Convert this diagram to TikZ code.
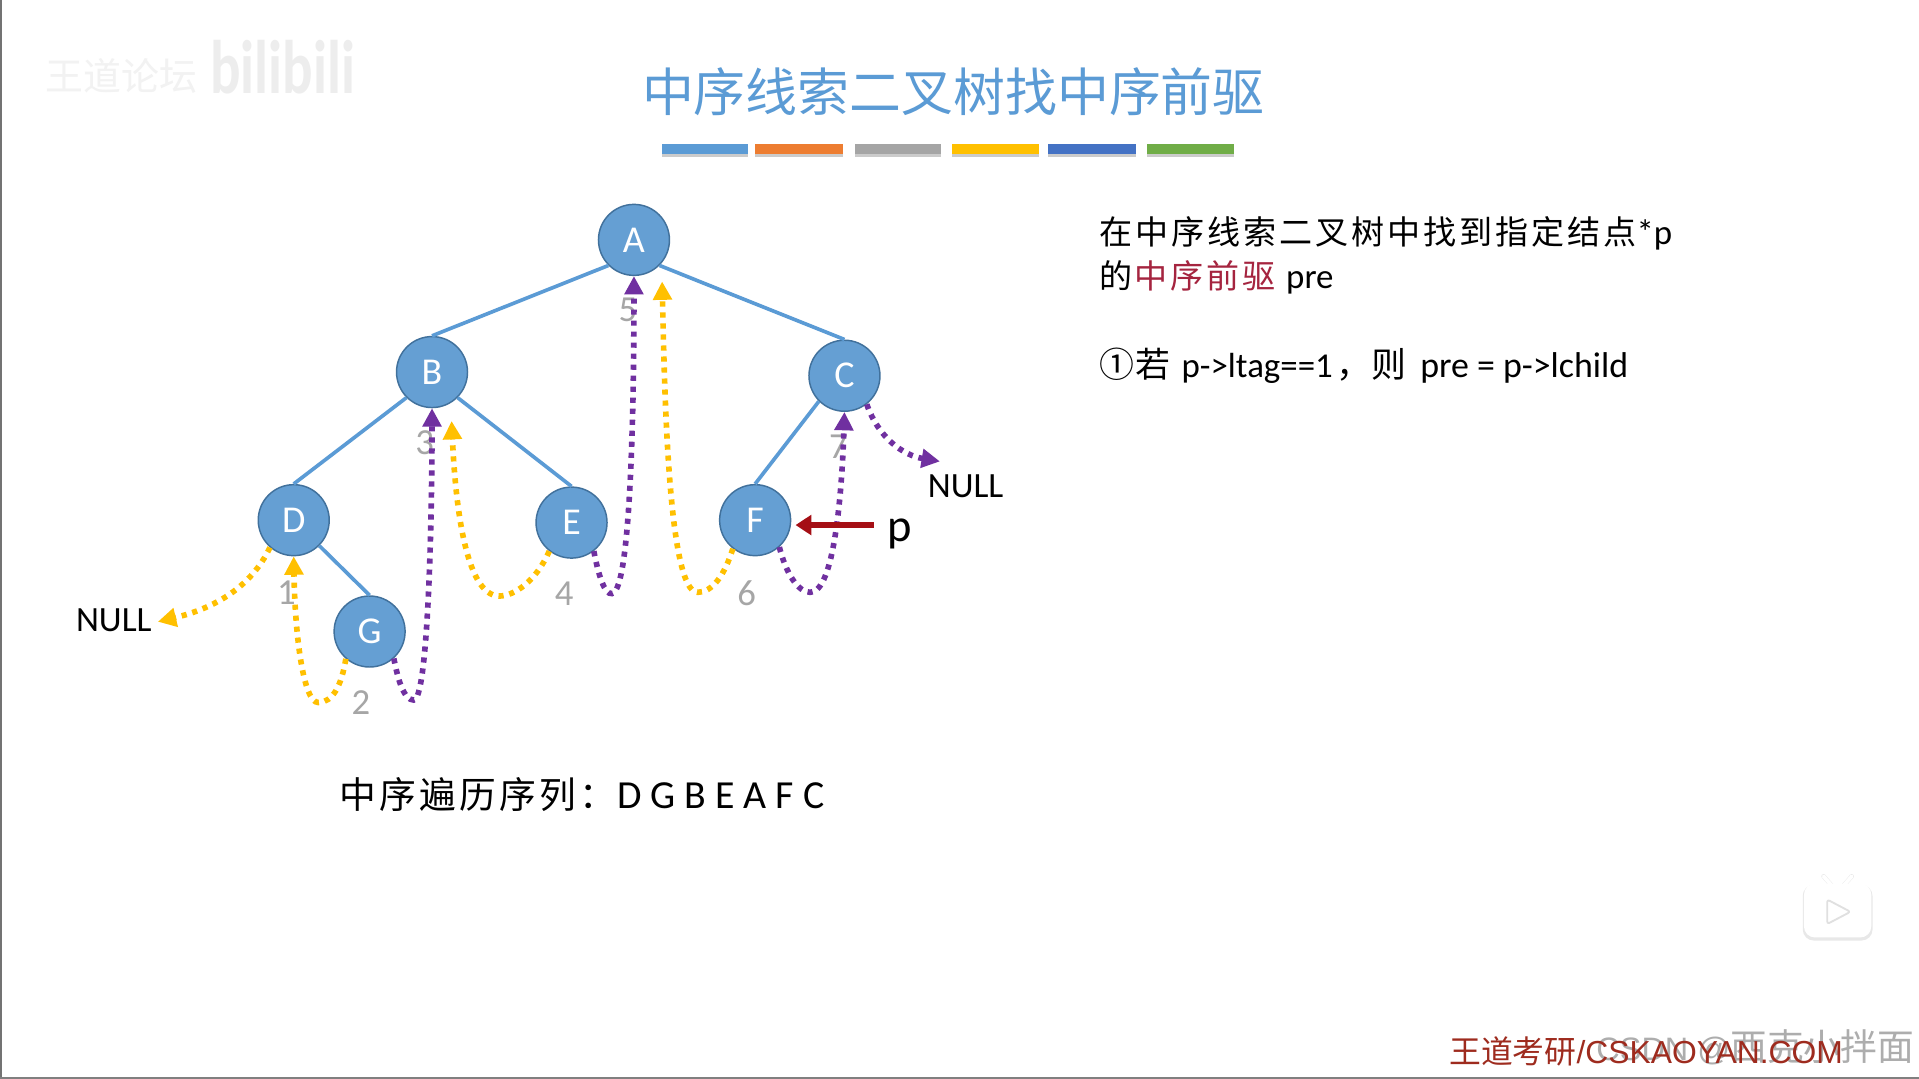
\documentclass[tikz,border=0pt]{standalone}
\usepackage{fontspec}
\usetikzlibrary{arrows.meta}
\setmainfont{Carlito}
\newfontfamily\cjk{Noto Sans CJK SC}
\newfontfamily\cjksp[LetterSpace=9]{Noto Sans CJK SC}
\newfontfamily\cjkss[LetterSpace=3]{Noto Sans CJK SC}
\newfontfamily\arial{Liberation Sans}
\newcommand{\fs}[1]{\fontsize{#1}{#1}\selectfont}
\definecolor{nodefill}{HTML}{659FD3}
\definecolor{nodeline}{HTML}{41719C}
\definecolor{edgeblue}{HTML}{5B9BD5}
\definecolor{thyellow}{HTML}{FFC000}
\definecolor{thpurple}{HTML}{7030A0}
\definecolor{ptrred}{HTML}{A50F15}
\definecolor{stressred}{HTML}{A5243F}
\definecolor{titleblue}{HTML}{5B9BD5}
\definecolor{numgray}{HTML}{A6A6A6}
\definecolor{brandred}{HTML}{9E2B1E}
\tikzset{
  x=1pt,y=-1pt,
  treenode/.style={circle,fill=nodefill,draw=nodeline,line width=1.2pt,minimum size=58pt,inner sep=0pt,text=white,font=\fs{31}},
  treeedge/.style={edgeblue,line width=3pt},
  thread/.style={line width=4.6pt,dash pattern=on 4.2pt off 4.8pt,-{Triangle[width=15pt,length=15pt]}},
  ythread/.style={thread,thyellow},
  pthread/.style={thread,thpurple},
  seqnum/.style={text=numgray,font=\fs{30},inner sep=0pt},
  txt/.style={anchor=west,inner sep=0pt,text=black},
}
\begin{document}
\begin{tikzpicture}
\useasboundingbox (0,0) rectangle (1568,881.6);
\fill[white] (0,0) rectangle (1568,881.6);
% frame of the screenshot
\draw[gray!90!black,line width=1.6pt] (0.8,0) -- (0.8,881);
\draw[gray,line width=1.2pt] (0,880.8) -- (1568,880.8);
% faint logo
\node[inner sep=0pt,text=black!5,font=\cjk\fs{31}] (wm1) at (99,62) {王道论坛};
\node[inner sep=0pt,text=black!7,font=\bfseries\fs{62},xscale=.75] (wm2) at (231,55) {bilibili};
% title
\node[inner sep=0pt,text=titleblue,font=\cjk\fs{42.4}] (title) at (779,75) {中序线索二叉树找中序前驱};
\foreach \xa/\xb/\c in {541/611/5B9BD5,617/689/ED7D31,699/769/A5A5A5,778/849/FFC000,856/928/4472C4,937/1008/70AD47}{
  \definecolor{barc}{HTML}{\c}
  \fill[black!45,opacity=.45] (\xa,120) rectangle (\xb,128);
  \fill[barc] (\xa,118) rectangle (\xb,126);
}
% tree
\node[treenode] (A) at (518,196) {A};
\node[treenode] (B) at (353,304) {B};
\node[treenode] (C) at (690,307) {C};
\node[treenode] (D) at (240,425) {D};
\node[treenode] (E) at (467,427) {E};
\node[treenode] (F) at (617,425) {F};
\node[treenode] (G) at (302,516) {G};
\draw[treeedge] (A.225) -- (B.90);
\draw[treeedge] (A.-45) -- (C.90);
\draw[treeedge] (B.225) -- (D.90);
\draw[treeedge] (B.-45) -- (E.90);
\draw[treeedge] (D.-45) -- (G.90);
\draw[treeedge] (C.225) -- (F.90);
% numbers
\node[seqnum] (n1) at (234,484) {1};
\node[seqnum] (n2) at (295,574) {2};
\node[seqnum] (n3) at (347,362) {3};
\node[seqnum] (n4) at (461,485) {4};
\node[seqnum] (n5) at (513,253) {5};
\node[seqnum] (n6) at (610,485) {6};
\node[seqnum] (n7) at (685,365) {7};
% labels
\node[inner sep=0pt,font=\fs{29}] (nullL) at (93,507) {NULL};
\node[inner sep=0pt,font=\fs{29}] (nullR) at (789,397) {NULL};
\node[inner sep=0pt,font=\fs{38}] (p) at (735,436) {p};
% free ends
\coordinate (tipL) at (129,508);
\coordinate (tipR) at (768,377);
\coordinate (tipB) at (369,344);
\coordinate (tipA) at (541,230);
\coordinate (pEnd) at (714,429);
\coordinate (pTip) at (650,429);
% threads
\draw[ythread] (D.229) .. controls (205,480) and (175,497) .. (tipL);
\draw[ythread] (G.229) .. controls (279,560) and (272,574) .. (260,574) .. controls (248,574) and (241,520) .. (D.south);
\draw[pthread] (G.-48) .. controls (325,555) and (330,572) .. (338,572) .. controls (350,572) and (353,420) .. (B.south);
\draw[ythread] (E.232) .. controls (438,475) and (420,487) .. (408,487) .. controls (380,487) and (372,410) .. (tipB);
\draw[pthread] (E.-52) .. controls (489,470) and (494,486) .. (500,485) .. controls (516,483) and (518,320) .. (A.south);
\draw[ythread] (F.232) .. controls (592,470) and (582,484) .. (570,484) .. controls (546,484) and (543,320) .. (tipA);
\draw[pthread] (F.-48) .. controls (642,468) and (652,484) .. (662,484) .. controls (682,484) and (688,400) .. (C.south);
\draw[pthread] (C.-52) .. controls (718,358) and (738,372) .. (tipR);
\draw[ptrred,line width=4.5pt,-{Triangle[width=16pt,length=13pt]}] (pEnd) -- (pTip);
% traversal
\node[txt,font=\fs{30}] (seq) at (277,649) {{\cjksp 中序遍历序列：}\kern1pt{\fs{32.5}D G B E A F C}};
% right-hand text
\node[txt,font=\fs{27}] (t1) at (898,191) {{\cjksp 在中序线索二叉树中找到指定结点}{\fs{28.5}*p}};
\node[txt,font=\fs{27}] (t2) at (898,227) {{\cjksp 的\kern2pt\textcolor{stressred}{中序前驱}}\kern2pt{\fs{28.5} pre}};
\node[txt,font=\fs{28.5}] (t3) at (898,299) {{\cjkss ①若}\kern3pt{} p->ltag==1\kern3pt{\cjk ，}{\cjkss 则}\kern5pt{} {\fs{29.3}pre = p->lchild}};
% play badge
\fill[black!9,rounded corners=9pt] (1473,723) rectangle (1530,768.5);
\draw[black!9,line width=3.6pt,line cap=round] (1490,716) -- (1497,724);
\draw[black!9,line width=3.6pt,line cap=round] (1513,716) -- (1506,724);
\draw[white,line width=3pt,line cap=round] (1490,716) -- (1497,724);
\draw[white,line width=3pt,line cap=round] (1513,716) -- (1506,724);
\fill[white,rounded corners=9pt] (1474,722) rectangle (1529,766);
\draw[black!12,fill=white,line width=1.5pt,line join=round,rounded corners=2pt] (1493,735) -- (1512,745) -- (1493,755) -- cycle;
% footer
\node[anchor=east,inner sep=0pt,text=black!32,font=\fs{30}] (csdn) at (1564,856) {{\arial\fs{26.5} CSDN @}{\cjk 西克小拌面}};
\node[anchor=west,inner sep=0pt,text=brandred,font=\fs{26}] (brand) at (1184,859) {{\cjk 王道考研}{\arial /CSKAOYAN.COM}};
\end{tikzpicture}
\end{document}
